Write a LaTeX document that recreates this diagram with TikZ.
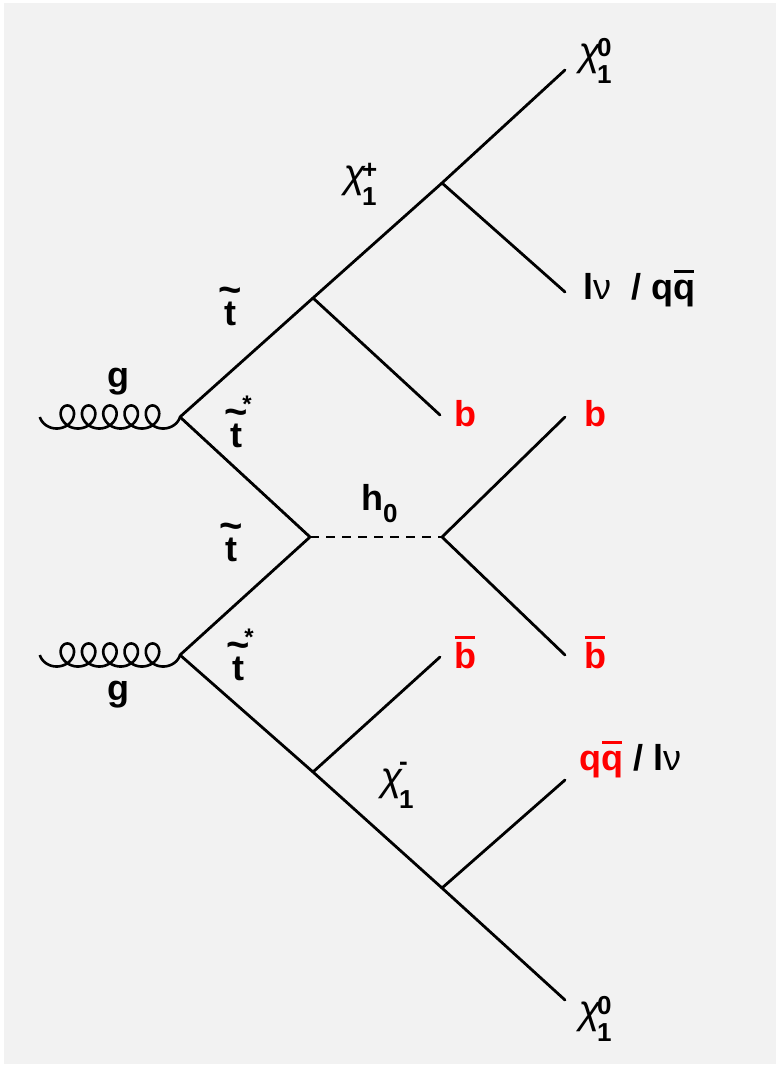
\documentclass[tikz,border=0pt]{standalone}
\usepackage{fontspec}
\setmainfont{Liberation Sans}
\newfontfamily\grkfont[FakeSlant=0.18]{Liberation Sans}
\newfontfamily\nufont{Liberation Sans}
\definecolor{panel}{HTML}{F2F2F2}
\newcommand\tilt[1]{\setbox0\hbox{#1}\rlap{\makebox[\wd0][c]{\raisebox{0.6em}{\fontsize{40}{44}\selectfont\textasciitilde}}}\box0}
\newcommand\ovl[2]{\setbox0\hbox{#2}\rlap{\kern0.04\wd0\rule[#1]{0.92\wd0}{0.08em}}\box0}
\newcommand\chis[3][-18pt]{{\fontsize{40}{44}\grkfont\mdseries χ}\rlap{\raisebox{#1}{\fontsize{26}{28}\selectfont\bfseries\kern-1pt #3}}\raisebox{-18pt}{\fontsize{26}{28}\selectfont\bfseries\kern-1pt #2}}
\begin{document}
\begin{tikzpicture}[x=1pt,y=-1pt,
  line/.style={line width=2.8pt, line cap=round},
  dline/.style={line width=2.8pt, dash pattern=on 9pt off 7pt},
  gluon/.style={line width=2.6pt, line join=round},
  lab/.style={font=\fontsize{36}{40}\selectfont\bfseries, inner sep=0pt, anchor=base},
  rlab/.style={lab, text=red}]
\useasboundingbox (0,0) rectangle (780,1067);
\fill[white] (0,0) rectangle (780,1067);
\fill[panel] (4,3) rectangle (776,1064);
% vertices
\coordinate (v1) at (180,417);
\coordinate (v2) at (180,655);
\coordinate (gs1) at (40,417);
\coordinate (gs2) at (40,655);
\coordinate (a) at (313,298);
\coordinate (b) at (442,183);
\coordinate (chi0t) at (565,70);
\coordinate (bq1) at (440,415);
\coordinate (lnu) at (565,292);
\coordinate (h1) at (310,537);
\coordinate (h2) at (442,537);
\coordinate (bb1) at (565,417);
\coordinate (bb2) at (565,655);
\coordinate (c) at (313,772);
\coordinate (d) at (442,888);
\coordinate (chi0b) at (565,1000);
\coordinate (bbar) at (440,657);
\coordinate (qq) at (565,780);
% gluons (from gs to v)
\draw[gluon, shift={(v1)}] plot[domain=0.5*pi:11.5*pi, samples=500, variable=\t]
  ({3.39*\t - 11.5*sin(\t r) - 133.97}, {-11.5*cos(\t r)});
\draw[gluon, shift={(v2)}] plot[domain=0.5*pi:11.5*pi, samples=500, variable=\t]
  ({3.39*\t - 11.5*sin(\t r) - 133.97}, {-11.5*cos(\t r)});
% lines
\draw[line] (v1) -- (a) -- (b) -- (chi0t);
\draw[line] (a) -- (bq1);
\draw[line] (b) -- (lnu);
\draw[line] (v1) -- (h1) -- (v2);
\draw[dline] (h1) -- (h2);
\draw[line] (bb1) -- (h2) -- (bb2);
\draw[line] (v2) -- (c) -- (d) -- (chi0b);
\draw[line] (c) -- (bbar);
\draw[line] (d) -- (qq);
% labels
\node[lab] (lg1) at (118,387) {g};
\node[lab] (lg2) at (118,700) {g};
\node[lab] (lt1) at (230,325) {\tilt{t}};
\node[lab] (lt2) at (241,447) {\tilt{t}\raisebox{0.95em}{\fontsize{24}{26}\selectfont *}};
\node[lab] (lt3) at (231,561) {\tilt{t}};
\node[lab] (lt4) at (243,680) {\tilt{t}\raisebox{0.95em}{\fontsize{24}{26}\selectfont *}};
\node[lab, anchor=base west] (lc1) at (342,188) {\chis[9pt]{1}{+}};
\node[lab, anchor=base west] (lc2) at (577,66) {\chis[9pt]{1}{0}};
\node[lab, anchor=base west] (lc3) at (577,1023) {\chis[9pt]{1}{0}};
\node[lab, anchor=base west] (lc4) at (379,790) {\chis[20pt]{1}{-}};
\node[lab, anchor=base west] (lh) at (361,510) {h\raisebox{-12pt}{\fontsize{26}{28}\selectfont\bfseries 0}};
\node[rlab] (lb1) at (465,426) {b};
\node[rlab] (lb2) at (595,426) {b};
\node[rlab] (lb3) at (465,668) {\ovl{0.8em}{b}};
\node[rlab] (lb4) at (595,668) {\ovl{0.8em}{b}};
\node[lab, anchor=base west] (lln) at (583,299) {l{\nufont\mdseries ν}\ \ / q\ovl{0.72em}{q}};
\node[lab, anchor=base west] (lqq) at (579,770) {\textcolor{red}{q\ovl{0.72em}{q}} / l{\nufont\mdseries ν}};
\end{tikzpicture}
\end{document}
